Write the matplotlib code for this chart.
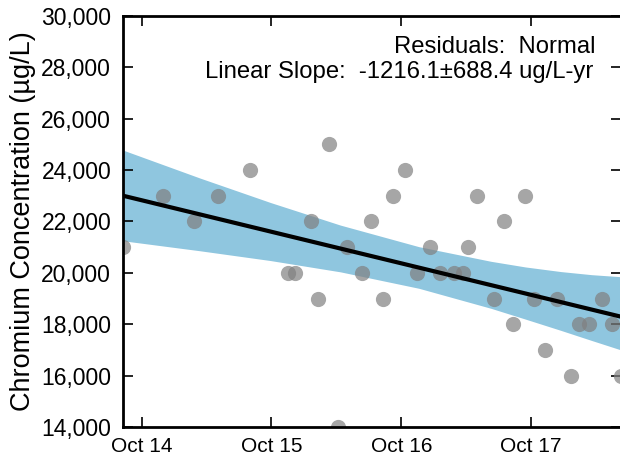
import matplotlib
matplotlib.use('Agg')
import matplotlib.pyplot as plt
import matplotlib.dates as mdates
import matplotlib.ticker as mticker
import numpy as np
import pandas as pd

# --- data ---
sample_dates = pd.to_datetime([
    '2014-08-10', '2014-12-01', '2015-02-24', '2015-05-03', '2015-08-02',
    '2015-11-17', '2015-12-07', '2016-01-19', '2016-02-08', '2016-03-10',
    '2016-04-05', '2016-05-01', '2016-06-12', '2016-07-06', '2016-08-10',
    '2016-09-07', '2016-10-10', '2016-11-15', '2016-12-19', '2017-01-17',
    '2017-02-26', '2017-03-24', '2017-04-05', '2017-05-03', '2017-06-19',
    '2017-07-16', '2017-08-10', '2017-09-14', '2017-10-10', '2017-11-09',
    '2017-12-13', '2018-01-21', '2018-02-12', '2018-03-12', '2018-04-18',
    '2018-05-17', '2018-06-11',
])
chromium = [
    21000, 23000, 22000, 23000, 24000,
    20000, 20000, 22000, 19000, 25000,
    14000, 21000, 20000, 22000, 19000,
    23000, 24000, 20000, 21000, 20000,
    20000, 20000, 21000, 23000, 19000,
    22000, 18000, 23000, 19000, 17000,
    19000, 16000, 18000, 18000, 19000,
    18000, 16000,
]

# trend line end points
fit_dates = pd.to_datetime(['2014-08-09', '2018-06-11'])
fit_vals = [23004, 18294]

# confidence band
band_dates = pd.to_datetime([
    '2014-08-09', '2015-03-14', '2015-09-28', '2016-04-12', '2016-11-19',
    '2017-06-10', '2017-09-15', '2017-12-24', '2018-03-20', '2018-06-11',
])
band_upper = [24780, 23690, 22740, 21860, 21020, 20450, 20230, 20050, 19930, 19850]
band_lower = [21250, 20860, 20480, 20040, 19400, 18620, 18200, 17760, 17370, 17000]

x_min, x_max = pd.Timestamp('2014-08-09'), pd.Timestamp('2018-06-11')
y_min, y_max = 14000, 30000

slope_txt = 'Linear Slope:  -1216.1\u00b1688.4 ug/L-yr'
resid_txt = 'Residuals:  Normal'

plt.rcParams['font.family'] = ['Liberation Sans', 'DejaVu Sans']

fig = plt.figure(figsize=(6.2, 4.59), dpi=100)
ax = fig.add_axes([123 / 620, 32 / 459, 498 / 620, 411 / 459])

ax.fill_between(band_dates, band_lower, band_upper, color='#8fc6df', lw=0, zorder=1)
ax.scatter(sample_dates, chromium, s=120, color='#808080', alpha=0.7, lw=0, zorder=2)
ax.plot(fit_dates, fit_vals, color='black', lw=3, zorder=3)

ax.set_xlim(x_min, x_max)
ax.set_ylim(y_min, y_max)

ax.xaxis.set_major_locator(mdates.MonthLocator(bymonth=10))
ax.xaxis.set_major_formatter(mdates.DateFormatter('%b %y'))
ax.yaxis.set_major_locator(mticker.MultipleLocator(2000))
ax.yaxis.set_major_formatter(mticker.StrMethodFormatter('{x:,.0f}'))

ax.tick_params(direction='in', length=7, width=1.2, top=True, right=True)
ax.tick_params(axis='y', labelsize=16.5, pad=8.5)
ax.tick_params(axis='x', labelsize=15, pad=7)
for sp in ax.spines.values():
    sp.set_linewidth(2)

ax.set_ylabel('Chromium Concentration (\u00b5g/L)', fontsize=19.5, labelpad=4)

ax.text(0.948, 0.925, resid_txt, transform=ax.transAxes, ha='right', va='center', fontsize=17.2)
ax.text(0.945, 0.864, slope_txt, transform=ax.transAxes, ha='right', va='center', fontsize=17.2)

fig.savefig('out.png', dpi=100)
